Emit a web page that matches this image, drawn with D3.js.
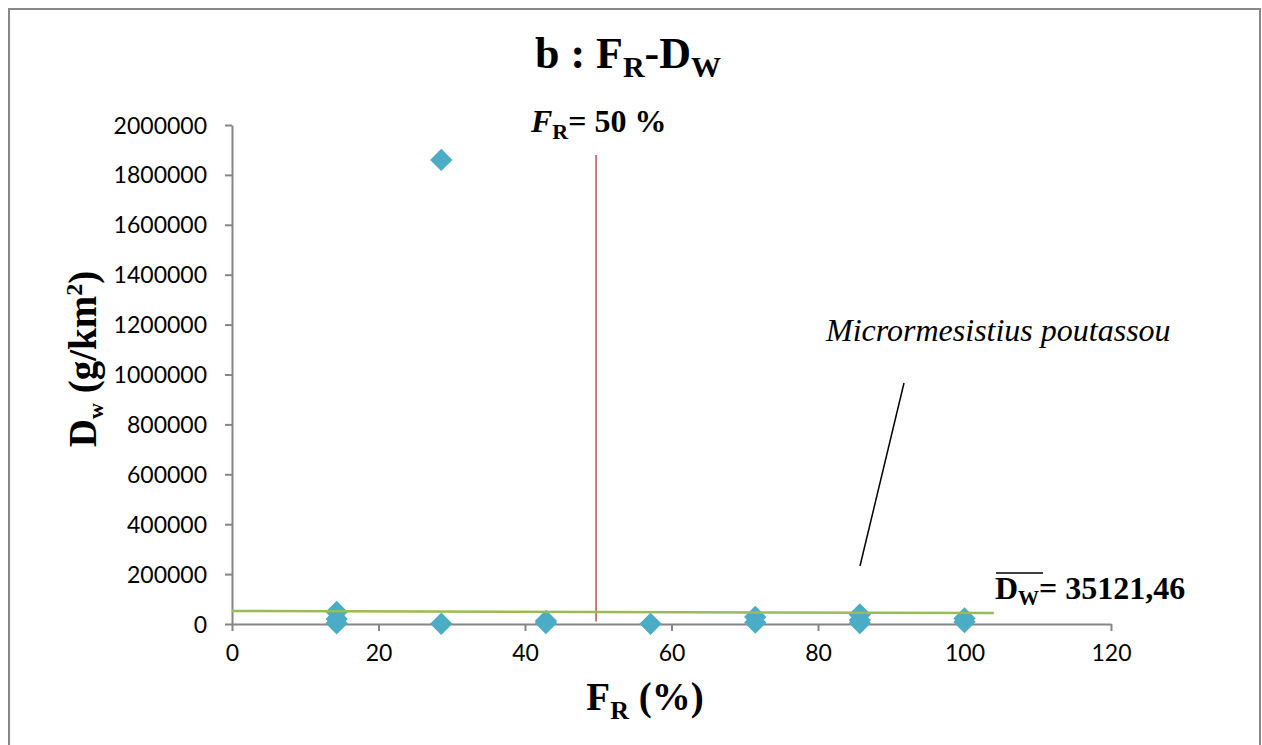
<!DOCTYPE html>
<html>
<head>
<meta charset="utf-8">
<script src="https://cdn.jsdelivr.net/npm/d3@7"></script>
<style>
  body { margin: 0; background: #fff; }
  svg text { fill: #000; }
</style>
</head>
<body>
<div id="chart"></div>
<script>
// data
const frValues = [14.29, 14.29, 14.29, 28.57, 28.57, 42.86, 42.86, 57.14, 71.43, 71.43, 85.71, 85.71, 85.71, 100, 100];
const dwValues = [48000, 20000, 3000, 1860000, 1000, 12000, 4000, 500, 28000, 6000, 38000, 15000, 4000, 22000, 8000];
const xTicks = [0, 20, 40, 60, 80, 100, 120];
const yTicks = [0, 200000, 400000, 600000, 800000, 1000000, 1200000, 1400000, 1600000, 1800000, 2000000];
const trendX = [0, 104];
const trendY = [52000, 44000];
const frLineX = 49.7;
const frLineY = [1880000, 10000];

const width = 1262, height = 745;
const svg = d3.select('#chart').append('svg')
    .attr('width', width).attr('height', height);

// outer frame
svg.append('rect')
    .attr('x', 9).attr('y', 9).attr('width', 1251).attr('height', 745)
    .attr('fill', 'none').attr('stroke', '#888').attr('stroke-width', 2);

const x = d3.scaleLinear().domain([0, 120]).range([232, 1111]);
const y = d3.scaleLinear().domain([0, 2000000]).range([624, 125]);

// axes
const xAxis = svg.append('g')
    .attr('transform', 'translate(0,624)')
    .call(d3.axisBottom(x).tickValues(xTicks).tickSize(7).tickPadding(12).tickSizeOuter(0));
const yAxis = svg.append('g')
    .attr('transform', 'translate(232,0)')
    .call(d3.axisLeft(y).tickValues(yTicks).tickSize(7).tickPadding(18).tickFormat(d3.format('d')).tickSizeOuter(0));
[xAxis, yAxis].forEach(g => {
  g.selectAll('path, line').attr('stroke', '#868686').attr('stroke-width', 2);
  g.selectAll('text').attr('font-family', 'Lato, "Open Sans", sans-serif')
    .attr('font-size', 23).attr('fill', '#000');
});
yAxis.selectAll('text').attr('dy', '0.35em');
xAxis.selectAll('text').attr('dy', '0.8em');

// red F_R = 50 line
svg.append('line')
    .attr('x1', x(frLineX)).attr('x2', x(frLineX))
    .attr('y1', y(frLineY[0])).attr('y2', y(frLineY[1]))
    .attr('stroke', '#c0504d').attr('stroke-width', 1.5);

// points
const pts = frValues.map((v, i) => ({fr: v, dw: dwValues[i]}));
svg.selectAll('path.pt')
    .data(pts)
    .enter().append('path')
    .attr('class', 'pt')
    .attr('d', d3.symbol(d3.symbolSquare, 250))
    .attr('transform', d => `translate(${x(d.fr)},${y(d.dw)}) rotate(45)`)
    .attr('fill', '#4bacc6');

// trend line
svg.append('line')
    .attr('x1', x(trendX[0])).attr('x2', x(trendX[1]))
    .attr('y1', y(trendY[0])).attr('y2', y(trendY[1]))
    .attr('stroke', '#9bbb59').attr('stroke-width', 2.5);

const serif = '"Liberation Serif", "Times New Roman", serif';

// title
const title = svg.append('text')
    .attr('x', 628).attr('y', 68)
    .attr('text-anchor', 'middle')
    .attr('font-family', serif).attr('font-weight', 'bold').attr('font-size', 44);
title.append('tspan').text('b : F');
title.append('tspan').attr('font-size', 30).attr('dy', 9).text('R');
title.append('tspan').attr('dy', -9).text('-D');
title.append('tspan').attr('font-size', 30).attr('dy', 9).text('W');

// F_R = 50 % label
const frLab = svg.append('text')
    .attr('x', 531).attr('y', 132)
    .attr('font-family', serif).attr('font-weight', 'bold').attr('font-size', 32);
frLab.append('tspan').attr('font-style', 'italic').text('F');
frLab.append('tspan').attr('font-size', 22).attr('dy', 7).text('R');
frLab.append('tspan').attr('dy', -7).text('= 50 %');

// species label and pointer
svg.append('text')
    .attr('x', 826).attr('y', 341)
    .attr('font-family', serif).attr('font-style', 'italic').attr('font-size', 32)
    .text('Micrormesistius poutassou');
svg.append('line')
    .attr('x1', 904).attr('y1', 383).attr('x2', 860).attr('y2', 566)
    .attr('stroke', '#000').attr('stroke-width', 1.5);

// mean label
const mean = svg.append('text')
    .attr('x', 995).attr('y', 599)
    .attr('font-family', serif).attr('font-weight', 'bold').attr('font-size', 32);
mean.append('tspan').text('D');
mean.append('tspan').attr('font-size', 21).attr('dy', 6).text('W');
mean.append('tspan').attr('dy', -6).text('= 35121,46');
svg.append('line')
    .attr('x1', 996).attr('x2', 1043).attr('y1', 573).attr('y2', 573)
    .attr('stroke', '#000').attr('stroke-width', 1.5);

// x axis title
const xt = svg.append('text')
    .attr('x', 645).attr('y', 710)
    .attr('text-anchor', 'middle')
    .attr('font-family', serif).attr('font-weight', 'bold').attr('font-size', 39);
xt.append('tspan').text('F');
xt.append('tspan').attr('font-size', 26).attr('dy', 9).text('R');
xt.append('tspan').attr('dy', -9).text(' (%)');

// y axis title
const yt = svg.append('text')
    .attr('transform', 'translate(96,359) rotate(-90)')
    .attr('text-anchor', 'middle')
    .attr('font-family', serif).attr('font-weight', 'bold').attr('font-size', 39);
yt.append('tspan').text('D');
yt.append('tspan').attr('font-size', 22).attr('dy', 7).text('w');
yt.append('tspan').attr('dy', -7).text('  (g/km');
yt.append('tspan').attr('font-size', 24).attr('dy', -14).text('2');
yt.append('tspan').attr('dy', 14).text(')');
</script>
</body>
</html>
